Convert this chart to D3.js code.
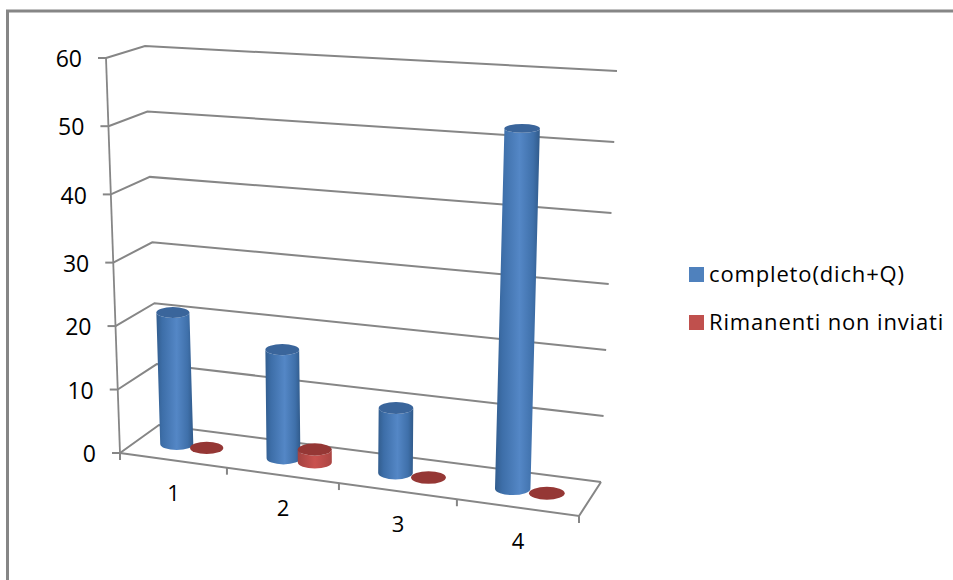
<!DOCTYPE html>
<html>
<head>
<meta charset="utf-8">
<style>
html,body{margin:0;padding:0;background:#fff;}
svg{display:block;}
text{font-family:"Open Sans",sans-serif;fill:#000;}
</style>
<script src="https://cdn.jsdelivr.net/npm/d3@7/dist/d3.min.js"></script>
</head>
<body>
<svg id="chart" width="953" height="580"></svg>
<script>
// Chart data
const categories = ["1", "2", "3", "4"];
const completo = [21, 17, 10, 52.5];
const rimanenti = [0, 2, 0, 0];
const valueTicks = [0, 10, 20, 30, 40, 50, 60];
const seriesNames = ["completo(dich+Q)", "Rimanenti non inviati"];

const W = 953, H = 580;
const GREY = "#868686";
const svg = d3.select("#chart");

// Perspective box: four floor corners and the lean/height of each vertical edge
const floorFL = [120, 453], floorBL = [159, 425], floorBR = [601, 482], floorFR = [579, 516];
const riseFL = [-14, -395], riseBL = [-14, -379], riseBR = [16, -411], riseFR = [16, -428];

const lerp = (a, b, t) => [a[0] + (b[0] - a[0]) * t, a[1] + (b[1] - a[1]) * t];

// Category index -> position along the box width (foreshortened toward the left)
const along = d3.scaleLinear().domain([0, 1, 2, 3, 4]).range([0, 0.233, 0.477, 0.734, 1]);
// Value -> fraction of wall height
const heightFrac = d3.scaleLinear().domain([0, 30, 60]).range([0, 0.482, 1]);
// Ellipse sizes grow as marks get lower and further right
const ellipseRy = d3.scaleLinear().domain([130, 490]).range([4.4, 6.4]);
const ellipseRx = d3.scaleLinear().domain([0, 1]).range([16.4, 18]);

function project(u, v, value) {
  const base = lerp(lerp(floorFL, floorFR, u), lerp(floorBL, floorBR, u), v);
  const rise = lerp(lerp(riseFL, riseFR, u), lerp(riseBL, riseBR, u), v);
  const t = heightFrac(value);
  return [base[0] + rise[0] * t, base[1] + rise[1] * t];
}

// Gradients for the cylinder sides
const defs = svg.append("defs");
function sideGradient(id, stops) {
  const g = defs.append("linearGradient").attr("id", id)
    .attr("x1", "0").attr("x2", "1").attr("y1", "0").attr("y2", "0");
  g.selectAll("stop").data(stops).join("stop")
    .attr("offset", d => d[0]).attr("stop-color", d => d[1]);
}
sideGradient("blueSide", [[0, "#325d8e"], [0.16, "#3d6ea8"], [0.55, "#5487c6"], [0.85, "#3f70aa"], [1, "#305a8a"]]);
sideGradient("redSide", [[0, "#a34240"], [0.5, "#c9524f"], [1, "#ab4543"]]);

// Outer chart frame (top and left edges)
svg.append("path")
  .attr("d", `M7.5,${H}V11H${W}`)
  .attr("fill", "none").attr("stroke", GREY).attr("stroke-width", 3);

const plot = svg.append("g");

// Wall gridlines: side wall edge, then back wall edge
plot.selectAll("path.grid").data(valueTicks).join("path")
  .attr("class", "grid")
  .attr("d", d => d3.line()([project(0, 0, d), project(0, 1, d), project(1, 1, d)]))
  .attr("fill", "none").attr("stroke", GREY).attr("stroke-width", 2);

// Floor outline
plot.append("path")
  .attr("d", d3.line()([project(0, 0, 0), project(1, 0, 0), project(1, 1, 0)]))
  .attr("fill", "none").attr("stroke", GREY).attr("stroke-width", 2);

// Value axis and its ticks
plot.append("path")
  .attr("d", d3.line()([project(0, 0, 0), project(0, 0, 60)]))
  .attr("fill", "none").attr("stroke", GREY).attr("stroke-width", 1.8);
plot.selectAll("line.vtick").data(valueTicks).join("line")
  .attr("class", "vtick")
  .attr("x1", d => project(0, 0, d)[0] - 8)
  .attr("x2", d => project(0, 0, d)[0])
  .attr("y1", d => project(0, 0, d)[1])
  .attr("y2", d => project(0, 0, d)[1])
  .attr("stroke", GREY).attr("stroke-width", 2);
plot.selectAll("text.vlabel").data(valueTicks).join("text")
  .attr("class", "vlabel")
  .attr("x", d => project(0, 0, d)[0] - 24)
  .attr("y", d => project(0, 0, d)[1] + 1)
  .attr("dy", "0.36em")
  .attr("text-anchor", "end")
  .attr("font-size", 23)
  .text(d => d);

// Category ticks and labels along the front edge
plot.selectAll("line.ctick").data(d3.range(categories.length + 1)).join("line")
  .attr("class", "ctick")
  .attr("x1", d => project(along(d), 0, 0)[0])
  .attr("x2", d => project(along(d), 0, 0)[0])
  .attr("y1", d => project(along(d), 0, 0)[1])
  .attr("y2", d => project(along(d), 0, 0)[1] + 7)
  .attr("stroke", GREY).attr("stroke-width", 2);
plot.selectAll("text.clabel").data(categories).join("text")
  .attr("class", "clabel")
  .attr("x", (d, i) => project(along(i + 0.5), 0, 0)[0])
  .attr("y", (d, i) => project(along(i + 0.5), 0, 0)[1] + 33)
  .attr("dy", "0.36em")
  .attr("text-anchor", "middle")
  .attr("font-size", 22)
  .text(d => d);

// Flatten both series into cylinders, back to front within each category
const cylinders = categories.flatMap((c, i) => [
  { i, value: completo[i], slot: 0.355, side: "url(#blueSide)", top: "#3a659b" },
  { i, value: rimanenti[i], slot: 0.64, side: "url(#redSide)", top: "#953735" }
]);

const cyl = plot.selectAll("g.cyl").data(cylinders).join("g").attr("class", "cyl");

cyl.filter(d => d.value > 0).append("path")
  .attr("fill", d => d.side)
  .attr("d", d => {
    const u = along(d.i + d.slot);
    const b = project(u, 0.5, 0), t = project(u, 0.5, d.value);
    const rx = ellipseRx(u), ryB = ellipseRy(b[1]), ryT = ellipseRy(t[1]);
    return `M${t[0] - rx},${t[1]}L${b[0] - rx},${b[1]}` +
      `A${rx},${ryB} 0 0 0 ${b[0] + rx},${b[1]}` +
      `L${t[0] + rx},${t[1]}` +
      `A${rx},${ryT} 0 0 1 ${t[0] - rx},${t[1]}Z`;
  });

cyl.append("ellipse")
  .attr("fill", d => d.top)
  .attr("cx", d => project(along(d.i + d.slot), 0.5, d.value)[0])
  .attr("cy", d => project(along(d.i + d.slot), 0.5, d.value)[1])
  .attr("rx", d => ellipseRx(along(d.i + d.slot)))
  .attr("ry", d => ellipseRy(project(along(d.i + d.slot), 0.5, d.value)[1]));

// Legend
const legendY = d3.scalePoint().domain(seriesNames).range([275, 323]);
const legendColor = d3.scaleOrdinal().domain(seriesNames).range(["#4f81bd", "#c0504d"]);
const legend = svg.selectAll("g.legend").data(seriesNames).join("g")
  .attr("class", "legend")
  .attr("transform", d => `translate(689,${legendY(d)})`);
legend.append("rect")
  .attr("x", 0).attr("y", -8).attr("width", 15).attr("height", 15)
  .attr("fill", d => legendColor(d));
legend.append("text")
  .attr("x", 20).attr("dy", "0.34em")
  .attr("font-size", 22)
  .attr("letter-spacing", 0.85)
  .text(d => d);
</script>
</body>
</html>
